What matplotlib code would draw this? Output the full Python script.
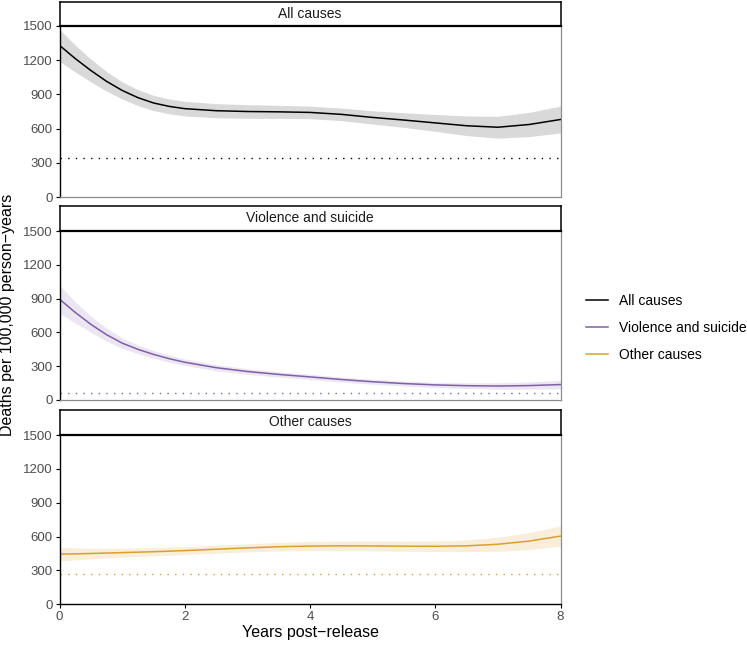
from matplotlib import pyplot as plt
from matplotlib.lines import Line2D
import numpy as np

## Data ------------------------------------------------------------------
years = [0, 0.25, 0.5, 0.75, 1, 1.25, 1.5, 1.75, 2, 2.5, 3, 3.5, 4, 4.5, 5, 5.5, 6, 6.5, 7, 7.5, 8]

panels = ["All causes", "Violence and suicide", "Other causes"]
colors = ["#000000", "#7E5FA8", "#DAA02B"]
band_colors = ["#D9D9D9", "#ECE6F2", "#F8EED9"]

all_rate = [1330, 1215, 1110, 1015, 935, 872, 825, 795, 775, 757, 750, 747, 742, 725, 698, 675, 650, 625, 612, 636, 680]
all_half = [140, 118, 100, 86, 75, 70, 67, 65, 64, 62, 60, 57, 55, 55, 58, 64, 74, 86, 96, 106, 118]

viol_rate = [895, 778, 672, 580, 505, 450, 405, 367, 335, 287, 253, 227, 205, 182, 162, 146, 134, 127, 124, 128, 137]
viol_half = [125, 95, 72, 57, 46, 39, 34, 31, 29, 27, 25, 24, 23, 22, 22, 22, 23, 25, 28, 32, 38]

other_rate = [445, 447, 450, 454, 458, 462, 466, 471, 476, 488, 500, 510, 516, 518, 517, 515, 514, 518, 532, 560, 604]
other_half = [60, 53, 47, 43, 40, 38, 37, 36, 35, 35, 36, 38, 40, 42, 44, 45, 47, 52, 62, 75, 90]

# general population reference rates (dotted)
ref_rate = [340, 62, 272]

rates = [all_rate, viol_rate, other_rate]
halves = [all_half, viol_half, other_half]

## Set up plot ------------------------------------------------------------
plt.rcParams["font.family"] = ["Liberation Sans", "DejaVu Sans"]
fsize = 10
plt.rc("xtick", labelsize=9.5, color="black", labelcolor="#4D4D4D")
plt.rc("ytick", labelsize=9.5, color="black", labelcolor="#4D4D4D")

W, H = 747, 646
fig = plt.figure(figsize=(W / 100, H / 100), dpi=100)


def frac(x0, y0, x1, y1):
    # pixel box (top-left origin) -> figure fraction rect
    return [x0 / W, 1 - y1 / H, (x1 - x0) / W, (y1 - y0) / H]


left, right = 59.5, 560.5
panel_px = [(26, 197), (231, 400), (435, 604.3)]
strip_px = [(2, 26), (206, 231), (410, 435)]

for i in range(3):
    ax = fig.add_axes(frac(left, panel_px[i][0], right, panel_px[i][1]))
    y = np.array(rates[i])
    h = np.array(halves[i])
    ax.fill_between(years, y - h, y + h, color=band_colors[i], lw=0)
    ax.plot(years, y, color=colors[i], lw=1.1)
    ax.axhline(ref_rate[i], color=colors[i], lw=1.0, linestyle=(0, (1, 4.5)))

    ax.set_xlim((0, 8))
    ax.set_ylim((0, 1500))
    ax.set_yticks([0, 300, 600, 900, 1200, 1500])
    ax.tick_params(axis="y", length=3, width=0.8, pad=2)
    ax.spines["top"].set_visible(False)
    ax.spines["left"].set_color("black")
    ax.spines["left"].set_linewidth(1.0)
    ax.spines["right"].set_color("#8C8C8C")
    ax.spines["right"].set_linewidth(0.9)
    if i < 2:
        ax.spines["bottom"].set_color("#8C8C8C")
        ax.spines["bottom"].set_linewidth(0.9)
        ax.set_xticks([])
    else:
        ax.spines["bottom"].set_color("black")
        ax.spines["bottom"].set_linewidth(1.0)
        ax.set_xticks([0, 2, 4, 6, 8])
        ax.tick_params(axis="x", length=3, width=0.8, pad=2)

    # facet strip
    sx = fig.add_axes(frac(left, strip_px[i][0], right, strip_px[i][1]))
    sx.set_xticks([])
    sx.set_yticks([])
    for s in sx.spines.values():
        s.set_color("black")
        s.set_linewidth(1.1)
    sx.spines["bottom"].set_linewidth(1.6)
    sx.text(0.5, 0.5, panels[i], ha="center", va="center", fontsize=fsize, color="#1A1A1A")

fig.text(0.5 * (left + right) / W, 1 - 632 / H, "Years post\u2212release", ha="center", va="center", fontsize=11.5)
fig.text(8 / W, 1 - 315 / H, "Deaths per 100,000 person\u2212years", ha="center", va="center",
         rotation=90, fontsize=11.5)

handles = [Line2D([], [], color=c, lw=1.1) for c in colors]
fig.legend(handles, panels, loc="center left", bbox_to_anchor=(586 / W, 1 - 328 / H),
           frameon=False, fontsize=fsize, handlelength=1.55, handletextpad=0.8,
           labelspacing=0.95, borderpad=0, borderaxespad=0)

fig.savefig("out.png", dpi=100)
